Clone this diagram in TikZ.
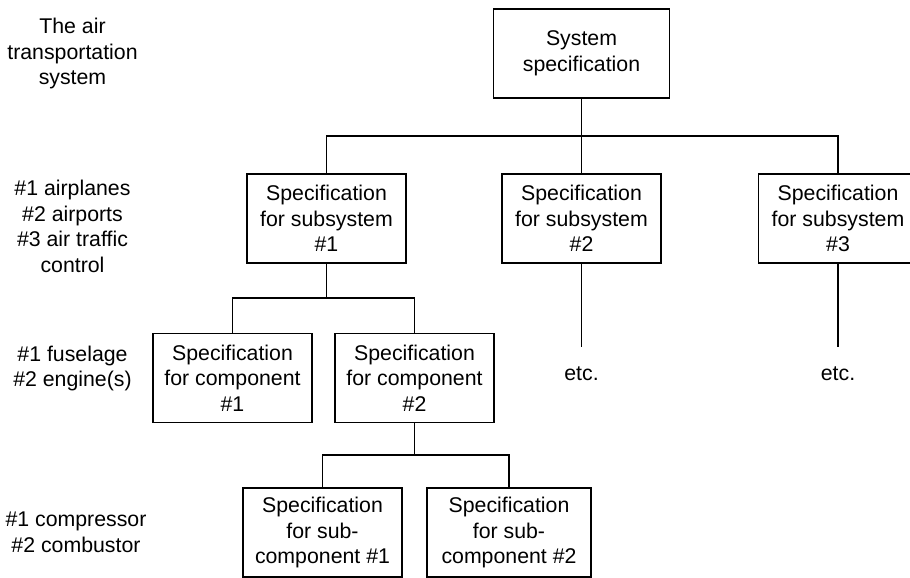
\documentclass[tikz,border=0pt]{standalone}
\usepackage{fontspec}
\setmainfont{Liberation Sans}
\begin{document}
\begin{tikzpicture}[x=1pt,y=-1pt,
  every node/.style={font=\fontsize{21.3}{25.5}\selectfont, align=center, inner sep=0pt},
  specbox/.style={draw, line width=1.1pt, minimum height=89pt, minimum width=159pt},
  link/.style={line width=1.1pt},
  lvl/.style={text=black}]
\useasboundingbox (0,0) rectangle (910,578);

% hierarchy level labels
\node[lvl] (l1) at (72.5,53.5) {The air\\transportation\\system};
\node[lvl] (l2) at (72.5,226.5) {\#1 airplanes\\\#2 airports\\\#3 air traffic\\control};
\node[lvl] (l3) at (72.5,368.5) {\#1 fuselage\\\#2 engine(s)};
\node[lvl] (l4) at (76,532.5) {\#1 compressor\\\#2 combustor};

% specification boxes
\node[specbox, minimum width=176pt] (sys) at (581.5,53.5) {System\\specification};
\node[specbox] (s1) at (326.5,218.5) {Specification\\for subsystem\\\#1};
\node[specbox] (s2) at (581.5,218.5) {Specification\\for subsystem\\\#2};
\node[specbox] (s3) at (838,218.5) {Specification\\for subsystem\\\#3};
\node[specbox] (c1) at (232.5,378) {Specification\\for component\\\#1};
\node[specbox] (c2) at (414.5,378) {Specification\\for component\\\#2};
\node[specbox] (sc1) at (322.5,532.5) {Specification\\for sub-\\component \#1};
\node[specbox, minimum width=164pt] (sc2) at (509,532.5) {Specification\\for sub-\\component \#2};

% continuation markers
\node (e2) at (581.5,374) {etc.};
\node (e3) at (838,374) {etc.};
\coordinate (t2) at (581.5,347);
\coordinate (t3) at (838,347);

% bus junctions
\coordinate (b0) at (581.5,136);
\coordinate (b1) at (326.5,298);
\coordinate (b2) at (414.5,455);

% connectors
\draw[link] (sys.south) -- (b0);
\draw[link] (s1.north) |- (b0) -| (s3.north);
\draw[link] (b0) -- (s2.north);
\draw[link] (s1.south) -- (b1);
\draw[link] (c1.north) |- (b1) -| (c2.north);
\draw[link] (c2.south) -- (b2);
\draw[link] (sc1.north) |- (b2) -| (sc2.north);
\draw[link] (s2.south) -- (t2);
\draw[link] (s3.south) -- (t3);
\end{tikzpicture}
\end{document}
